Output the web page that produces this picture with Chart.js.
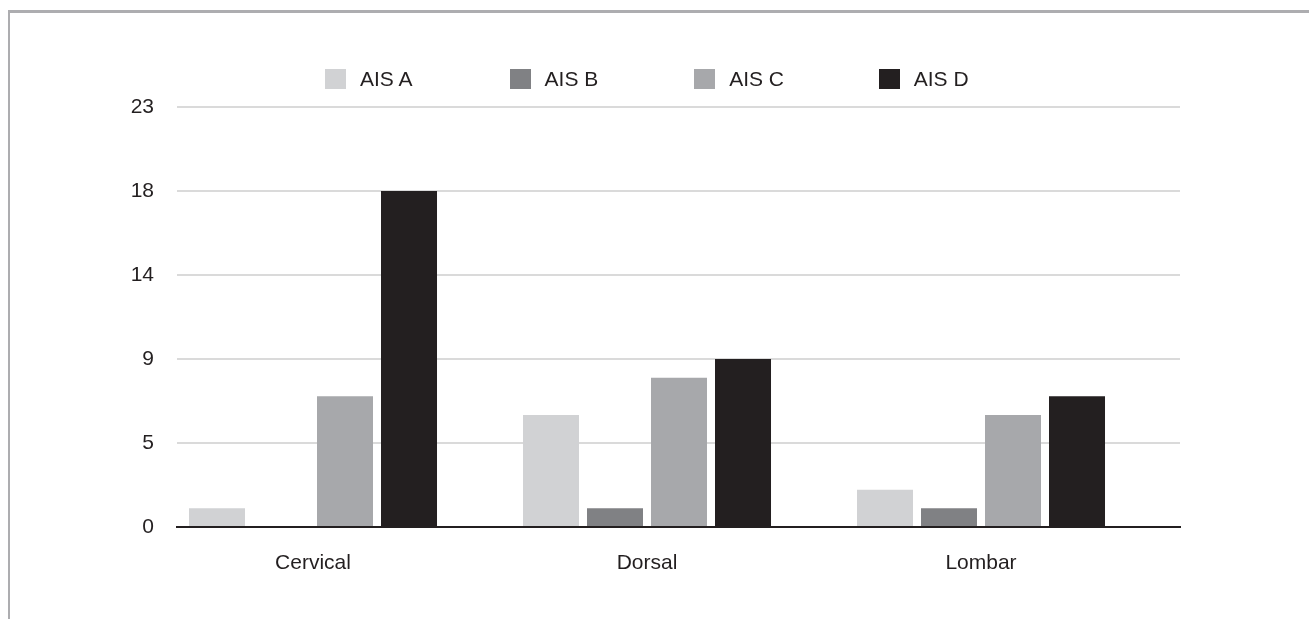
<!DOCTYPE html>
<html>
<head>
<meta charset="utf-8">
<script src="https://cdn.jsdelivr.net/npm/chart.js@4/dist/chart.umd.min.js"></script>
<style>
  html, body { margin: 0; padding: 0; background: #ffffff; }
  #wrap { position: relative; width: 1309px; height: 619px; overflow: hidden; }
  #frame { position: absolute; left: 8px; top: 10px; width: 1400px; height: 700px;
           border-top: 3px solid #adadb0; border-left: 2px solid #adadb0; box-sizing: border-box; }
  #chart { position: absolute; left: 0; top: 0; }
  #legend { position: absolute; left: 325px; top: 69px; display: flex; }
  .item { width: 184.6px; display: flex; align-items: center; height: 20px;
          font-family: "Liberation Sans", Arial, Helvetica, sans-serif; font-size: 21px; color: #231f20; }
  .sw { width: 21px; height: 20px; margin-right: 14px; flex: none; }
</style>
</head>
<body>
<div id="wrap">
  <div id="frame"></div>
  <canvas id="chart" width="1309" height="619"></canvas>
  <div id="legend"></div>
</div>
<script>
// Injury level categories and AIS grade counts
const categories = ['Cervical', 'Dorsal', 'Lombar'];
const seriesNames = ['AIS A', 'AIS B', 'AIS C', 'AIS D'];
const aisA = [1, 6, 2];
const aisB = [0, 1, 1];
const aisC = [7, 8, 6];
const aisD = [18, 9, 7];
const seriesColors = ['#d1d2d4', '#808184', '#a7a8ab', '#231f20'];
// Value axis: 0 to 22.5 in steps of 4.5, labels shown rounded
const yMax = 22.5;
const yStep = 4.5;

const seriesValues = [aisA, aisB, aisC, aisD];
const FONT = '"Liberation Sans", Arial, Helvetica, sans-serif';
const TEXT = '#231f20';

const datasets = seriesNames.map((name, i) => ({
  label: name,
  data: seriesValues[i].map((v, k) => ({ x: k, y: v })),
  backgroundColor: seriesColors[i],
  borderWidth: 0,
  categoryPercentage: 0.7665,
  barPercentage: 0.875
}));

// Legend row
const legendEl = document.getElementById('legend');
seriesNames.forEach((name, i) => {
  const item = document.createElement('div');
  item.className = 'item';
  const sw = document.createElement('span');
  sw.className = 'sw';
  sw.style.background = seriesColors[i];
  const tx = document.createElement('span');
  tx.textContent = name;
  item.appendChild(sw);
  item.appendChild(tx);
  legendEl.appendChild(item);
});

new Chart(document.getElementById('chart'), {
  type: 'bar',
  data: { datasets },
  options: {
    responsive: false,
    animation: false,
    devicePixelRatio: 1,
    layout: { padding: { left: 110, right: 129, top: 107, bottom: 0 } },
    plugins: { legend: { display: false }, tooltip: { enabled: false } },
    scales: {
      x: {
        type: 'linear',
        min: -0.4072,
        max: 2.5958,
        offset: false,
        afterBuildTicks: (scale) => { scale.ticks = categories.map((c, i) => ({ value: i })); },
        afterFit: (scale) => { scale.height = 92; },
        grid: { display: false, offset: false },
        border: { display: true, color: '#231f20', width: 2 },
        ticks: {
          padding: 16,
          maxRotation: 0,
          autoSkip: false,
          color: TEXT,
          font: { family: FONT, size: 21 },
          callback: (v) => categories[v] ?? ''
        }
      },
      y: {
        min: 0,
        max: yMax,
        afterFit: (scale) => { scale.width = 67; },
        grid: { color: '#dadada', lineWidth: 2, drawTicks: false },
        border: { display: false },
        ticks: {
          stepSize: yStep,
          padding: 23,
          color: TEXT,
          font: { family: FONT, size: 21 },
          callback: (v) => String(Math.round(v))
        }
      }
    }
  }
});
</script>
</body>
</html>
